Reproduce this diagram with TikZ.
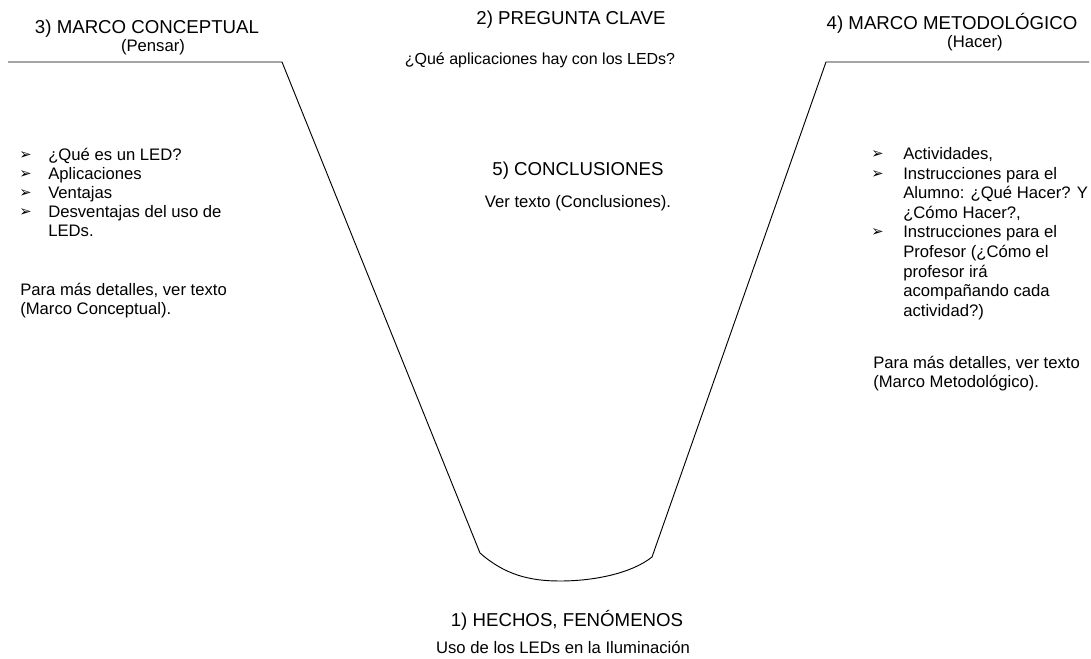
\documentclass[tikz,border=0pt]{standalone}
\usepackage{fontspec}
\setmainfont{Liberation Sans}
\newfontfamily\dejavu{DejaVu Sans}
\begin{document}
\begin{tikzpicture}[x=0.75pt,y=-0.75pt,
  hdr/.style={font=\fontsize{14}{16}\selectfont, inner sep=0, anchor=base},
  txt/.style={font=\fontsize{12.5}{14.5}\selectfont, inner sep=0, anchor=base west},
  ctxt/.style={font=\fontsize{12.5}{14.5}\selectfont, inner sep=0, anchor=base},
  bul/.style={font=\dejavu\fontsize{11}{12}\selectfont, inner sep=0, anchor=west},
  vline/.style={line width=0.7pt, black}]
\useasboundingbox (0,0) rectangle (1091,659);
\fill[white] (0,0) rectangle (1091,659);

% V shape
\coordinate (tl) at (8,62);
\coordinate (l1) at (282,62);
\coordinate (l2) at (480,553);
\coordinate (bot) at (560,581);
\coordinate (r2) at (652,557);
\coordinate (r1) at (826,62);
\coordinate (tr) at (1089,62);
\draw[vline] (tl) -- (l1) -- (l2) .. controls (505,575) and (530,581) .. (bot)
  .. controls (595,581) and (632,573) .. (r2) -- (r1) -- (tr);

% headers
\node[hdr] (h3) at (147,34) {3) MARCO CONCEPTUAL};
\node[ctxt] (p3) at (153,52) {(Pensar)};
\node[hdr] (h2) at (571,25) {2) PREGUNTA CLAVE};
\node[ctxt, font=\fontsize{12}{14}\selectfont] (q2) at (540,65) {¿Qué aplicaciones hay con los LEDs?};
\node[hdr] (h4) at (952,30) {4) MARCO METODOLÓGICO};
\node[ctxt] (p4) at (975,48) {(Hacer)};
\node[hdr] (h5) at (578,176) {5) CONCLUSIONES};
\node[ctxt] (c5) at (578,208) {Ver texto (Conclusiones).};
\node[hdr] (h1) at (567,626) {1) HECHOS, FENÓMENOS};
\node[ctxt] (u1) at (563,653) {Uso de los LEDs en la Iluminación};

% left list
\node[bul] (lb1) at (19,156) {➢};
\node[txt] (lt1) at (48,161) {¿Qué es un LED?};
\node[bul] (lb2) at (19,175) {➢};
\node[txt] (lt2) at (48,180) {Aplicaciones};
\node[bul] (lb3) at (19,194) {➢};
\node[txt] (lt3) at (48,199) {Ventajas};
\node[bul] (lb4) at (19,213) {➢};
\node[txt] (lt4) at (48,218) {Desventajas del uso de};
\node[txt] (lt5) at (48,237) {LEDs.};
\node[txt] (lp1) at (20,295) {Para más detalles, ver texto};
\node[txt] (lp2) at (20,314) {(Marco Conceptual).};

% right list
\node[bul] (rb1) at (871,155) {➢};
\node[txt] (rt1) at (903,160) {Actividades,};
\node[bul] (rb2) at (871,174.5) {➢};
\node[txt] (rt2) at (903,179.5) {Instrucciones para el};
\node[txt] (rt3) at (903,199) {Alumno: ¿Qué Hacer? Y};
\node[txt] (rt4) at (903,218.5) {¿Cómo Hacer?,};
\node[bul] (rb3) at (871,233) {➢};
\node[txt] (rt5) at (903,238) {Instrucciones para el};
\node[txt] (rt6) at (903,257.5) {Profesor (¿Cómo el};
\node[txt] (rt7) at (903,277) {profesor irá};
\node[txt] (rt8) at (903,296.5) {acompañando cada};
\node[txt] (rt9) at (903,316) {actividad?)};
\node[txt] (rp1) at (873,368) {Para más detalles, ver texto};
\node[txt] (rp2) at (873,387) {(Marco Metodológico).};
\end{tikzpicture}
\end{document}
